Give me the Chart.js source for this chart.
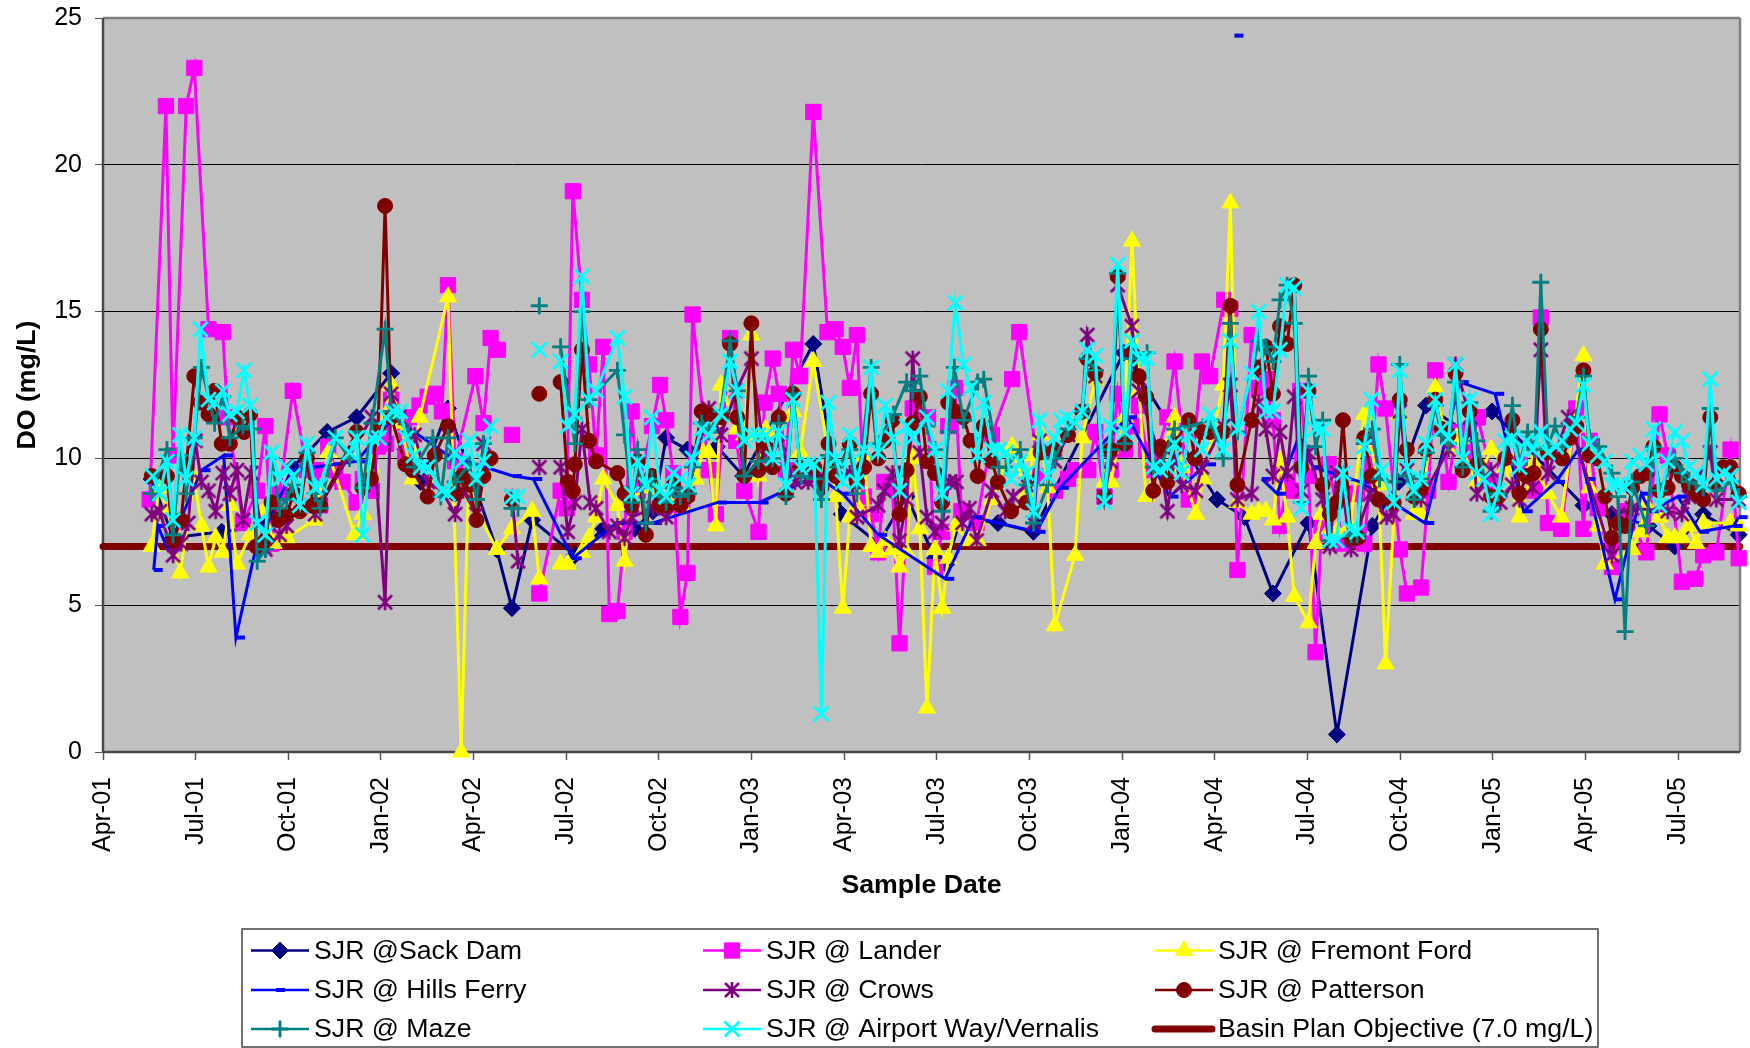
<!DOCTYPE html>
<html><head><meta charset="utf-8">
<style>html,body{margin:0;padding:0;background:#fff}canvas{display:block}</style>
<script src="https://cdn.jsdelivr.net/npm/chart.js@4"></script>
</head><body><canvas id="c" width="1750" height="1048"></canvas>
<script>
// x values: days after 1 Apr 2001. null = break in the line.
const tickDays=[0,91.3,182.6,273.9,365.2,456.5,547.9,639.2,730.5,821.8,913.1,1004.4,1095.7,1187,1278.3,1369.7,1461,1552.3];
const tickLabels=['Apr-01','Jul-01','Oct-01','Jan-02','Apr-02','Jul-02','Oct-02','Jan-03','Apr-03','Jul-03','Oct-03','Jan-04','Apr-04','Jul-04','Oct-04','Jan-05','Apr-05','Jul-05'];

const sackDays=[48,69,117,161,187,221,250,284,298,313,340,388,403,423,465,493,524,542,555,576,605,631,700,728,764,792,820,831,846,882,917,1006,1098,1125,1153,1188,1216,1251,1277,1304,1343,1369,1459,1487,1523,1549,1577,1612];
const sackDO=[9.3,7.3,7.5,7.7,9.7,10.9,11.4,12.9,10.3,9.2,11.7,6.9,4.9,7.9,6.7,7.6,7.6,8.2,10.7,10.3,10.4,9.4,13.9,8.1,7.1,8.7,6.6,6.4,8.0,7.8,7.5,13.6,8.6,8.0,5.4,7.8,0.6,7.7,9.2,11.8,10.9,11.6,8.4,8.1,7.7,7.0,8.1,7.4];

const landerDays=[46,62,69,82,90,104,118,123,138,152,160,166,174,187,201,211,214,222,229,236,250,256,265,271,279,284,298,305,312,320,327,334,340,347,367,375,382,389,null,403,null,430,451,457,463,472,479,486,493,499,507,514,521,527,541,549,555,562,569,576,581,597,604,618,624,632,646,652,660,666,673,680,687,700,714,722,729,736,743,750,757,764,770,778,785,798,805,813,820,827,833,840,846,861,876,896,903,923,938,951,958,971,978,987,993,1000,1007,1014,1021,1028,1034,1049,1056,1070,1083,1091,1105,1111,1118,1132,1139,1146,1153,1160,1167,1173,1180,1188,1195,1201,1208,1222,1229,1236,1243,1250,1257,1264,1278,1285,1299,1306,1313,1326,1334,1347,1355,1370,1382,1396,1411,1417,1424,1437,1452,1459,1465,1473,1487,1501,1521,1534,1542,1556,1569,1577,1590,1604,1612];
const landerDO=[8.6,22.0,10.1,22.0,23.3,14.4,14.3,11.4,7.8,8.9,11.1,7.1,8.8,12.3,9.6,9.6,8.4,10.4,9.6,9.2,8.5,9.3,8.9,10.4,10.5,12.0,10.1,11.4,11.8,12.1,12.2,11.6,15.9,9.9,12.8,11.2,14.1,13.7,null,10.8,null,5.4,8.9,8.3,19.1,15.4,13.2,10.1,13.8,4.7,4.8,7.5,11.6,8.9,11.1,12.5,11.3,9.5,4.6,6.1,14.9,9.6,8.1,14.1,10.6,8.9,7.5,11.9,13.4,12.2,9.6,13.7,12.8,21.8,14.3,14.4,13.8,12.4,14.2,8.7,8.1,6.8,9.2,9.0,3.7,11.7,11.4,11.4,6.3,7.5,11.1,12.4,8.2,7.8,10.8,12.7,14.3,9.4,8.9,9.3,9.6,9.6,10.9,8.7,9.6,12.2,10.3,11.1,11.8,10.3,9.6,11.4,13.3,8.6,13.3,12.8,15.4,15.1,6.2,14.2,12.4,12.7,11.3,7.7,9.2,8.9,12.3,9.4,3.4,7.7,9.8,7.1,8.8,8.8,7.1,9.8,13.2,11.7,6.9,5.4,5.6,8.9,13.0,9.2,10.9,10.2,11.4,9.2,9.8,9.8,8.9,14.8,7.8,7.6,11.7,7.6,10.6,8.3,6.3,8.2,6.8,11.5,10.1,5.8,5.9,6.7,6.8,10.3,6.6];

const fremontDays=[48,55,64,76,90,97,104,111,118,125,132,145,160,168,181,208,222,248,256,264,284,293,305,312,340,353,360,388,403,423,430,null,451,458,472,479,486,493,507,514,521,542,570,584,591,597,604,609,625,632,639,646,653,660,680,687,700,722,729,736,743,750,757,764,771,778,785,792,798,805,812,820,827,833,840,853,862,876,896,910,917,924,931,938,958,965,978,987,993,1007,1014,1021,1028,1056,1063,1077,1084,1104,1111,1118,1132,1139,1146,1153,1160,1167,1174,1188,1195,1201,1209,1216,1229,1243,1257,1264,1278,1292,1299,1313,1326,1334,1354,1368,1382,1396,1410,1424,1437,1459,1465,1473,1480,1507,1515,1521,1534,1542,1549,1556,1563,1570,1577,1604,1612];
const fremontDO=[7.0,9.0,8.3,6.1,9.3,7.7,6.3,7.3,6.8,8.4,6.4,7.4,8.3,7.1,7.3,7.9,10.2,7.4,8.1,9.7,12.5,11.2,9.3,11.4,15.5,0,8.8,6.9,7.6,8.2,5.9,null,6.4,6.4,6.8,7.3,8.0,9.3,8.4,6.5,8.7,9.0,8.4,9.3,10.2,10.2,7.7,12.5,11.0,10.8,14.2,9.4,11.0,10.5,11.6,10.2,13.3,8.7,4.9,8.0,8.4,10.1,7.0,6.8,7.2,6.9,6.3,6.8,10.0,7.6,1.5,6.9,4.9,6.6,7.7,7.2,7.2,8.6,10.4,8.8,10.1,10.8,9.0,4.3,6.7,10.7,12.7,9.2,9.2,11.4,17.4,12.3,8.7,11.4,9.7,8.1,9.3,12.5,18.7,8.5,8.1,8.2,8.2,7.9,9.9,8.0,5.3,4.4,7.1,8.1,7.6,7.5,7.7,11.5,9.1,3.0,11.5,8.1,8.1,12.4,10.3,10.7,9.2,10.3,9.7,8.0,9.8,8.8,8.0,13.5,9.0,7.7,6.4,6.9,7.5,8.4,8.0,7.3,7.3,7.3,7.7,7.1,7.8,7.8,7.7];

const hillsDays=[50,54,64,97,119,131,151,187,250,286,340,404,424,463,506,542,606,647,703,729,764,830,858,920,943,1010,1051,1088,null,1115,null,1142,1157,1177,1193,1239,1303,1337,1372,1400,1432,1454,1462,1490,1516,1525,1552,1574,1607,1612];
const hillsDO=[6.2,7.7,6.9,9.6,10.1,3.9,7.0,9.6,9.9,11.4,10.1,9.4,9.3,6.6,7.8,7.8,8.5,8.5,9.4,8.8,7.4,5.9,8.0,7.5,9.0,11.4,8.7,9.8,null,24.4,null,9.3,8.8,10.6,9.7,9.2,7.8,12.6,12.2,8.2,9.2,10.3,9.3,5.2,8.8,8.2,8.7,7.5,7.7,8.0];

const crowsDays=[48,56,69,77,84,91,97,104,111,118,125,132,138,146,160,174,181,194,209,214,265,278,284,292,307,320,334,347,355,368,375,null,403,409,null,430,null,451,458,465,472,480,486,499,507,514,521,542,555,576,597,609,624,639,652,667,682,695,701,736,743,764,770,778,785,792,798,805,812,820,827,834,841,847,854,861,876,889,897,910,917,923,938,951,965,970,978,987,993,1000,1014,1021,1042,1049,1056,1063,1077,1083,1104,1111,1118,1132,1139,1146,1153,1160,1167,1174,1181,1188,1202,1209,1216,1222,1230,1249,1265,1272,1278,1285,1299,1326,1333,1347,1354,1368,1377,1389,1396,1409,1417,1424,1444,1487,1493,1507,1542,1556,1563,1584,1590,1612];
const crowsDO=[8.1,8.2,6.7,7.1,7.8,10.6,9.2,8.9,8.2,9.5,8.8,9.6,7.9,9.5,6.9,7.4,7.7,8.4,8.1,8.4,11.4,5.1,12.2,11.4,10.8,9.2,8.9,8.1,8.9,8.1,10.5,null,8.7,6.5,null,9.7,null,9.7,7.5,8.5,11.0,8.5,8.3,7.5,7.7,7.3,8.0,8.3,8.0,8.8,11.7,10.8,12.3,13.4,10.1,10.5,9.2,9.2,9.3,9.5,8.0,8.4,8.9,9.5,7.2,8.6,13.4,10.2,8.0,7.5,7.8,9.2,9.2,7.8,8.3,7.2,8.9,8.2,8.7,9.1,7.8,10.6,9.9,10.8,11.6,14.2,12.8,8.7,9.9,15.9,14.5,12.3,10.0,8.2,10.0,9.1,8.9,9.7,11.1,12.5,8.6,8.8,11.9,11.0,9.4,10.9,9.5,12.1,8.9,10.2,8.6,7.0,9.5,8.8,6.9,8.8,8.0,8.1,11.6,9.6,8.6,10.3,13.2,11.4,8.8,9.6,8.5,9.1,8.6,9.0,13.7,9.5,11.4,6.7,8.1,8.3,8.2,8.1,8.7,10.2,8.6,8.6];

const pattersonDays=[48,63,69,77,82,90,96,104,110,117,125,132,139,145,151,160,166,173,181,188,194,201,207,214,250,256,264,271,278,284,298,305,320,327,340,347,354,361,368,375,382,null,403,null,430,null,451,458,463,465,472,479,486,507,514,521,527,535,541,549,555,562,569,576,590,597,609,618,625,632,639,646,653,660,666,673,680,687,701,708,715,722,736,743,750,757,764,770,778,785,792,798,805,812,820,827,833,840,848,855,862,868,876,882,895,910,924,938,951,965,970,978,987,993,1000,1007,1014,1021,1028,1035,1042,1049,1056,1070,1076,1083,1091,1104,1111,1118,1132,1139,1146,1153,1160,1167,1174,1181,1188,1202,1209,1216,1222,1230,1237,1243,1250,1257,1272,1278,1285,1292,1299,1304,1313,1319,1326,1333,1340,1347,1354,1368,1375,1382,1389,1396,1403,1410,1417,1424,1438,1446,1452,1459,1465,1473,1480,1487,1493,1500,1507,1515,1521,1528,1534,1542,1549,1556,1563,1570,1577,1584,1590,1597,1604,1612];
const pattersonDO=[9.4,9.4,7.2,7.9,9.7,12.8,11.9,11.5,12.3,10.5,10.5,11.4,10.9,11.5,7.0,7.2,8.5,7.9,8.1,8.8,8.2,10.0,8.4,8.4,10.9,9.0,9.3,11.0,18.6,11.4,9.8,9.6,8.7,10.1,11.1,8.8,9.4,9.1,7.9,9.4,10.0,null,8.6,null,12.2,null,12.6,9.2,8.9,9.8,13.7,10.6,9.9,9.5,8.8,8.4,9.9,7.4,9.4,8.4,8.4,9.1,8.4,8.7,11.6,11.5,11.4,13.9,11.4,9.4,14.6,9.6,10.5,9.7,11.4,8.8,12.2,9.7,9.7,9.0,10.5,9.4,10.5,9.2,9.7,12.2,10.0,10.6,11.3,8.1,9.6,11.2,12.1,9.9,9.5,8.5,11.9,11.6,11.4,10.6,9.4,11.1,9.9,9.2,8.2,8.5,10.2,10.3,10.8,11.6,13.4,12.9,8.7,10.3,16.2,10.5,13.6,12.8,12.1,8.9,10.4,9.2,10.5,11.3,10.0,10.9,10.9,10.9,15.2,9.1,11.3,13.1,13.8,12.2,14.5,13.9,15.9,9.7,12.3,9.1,8.1,8.5,11.3,7.3,7.3,10.7,9.4,8.6,8.5,12.0,10.3,8.7,9.0,10.3,12.0,11.0,10.8,12.9,9.6,11.6,9.8,8.7,8.7,10.0,11.3,8.8,9.4,9.5,14.4,10.2,10.0,10.7,11.1,13.0,10.1,10.0,8.7,7.3,7.8,7.7,9.0,9.4,9.5,10.4,8.9,9.0,9.7,9.4,9.1,8.8,8.6,11.4,9.1,9.7,9.7,8.8];

const mazeDays=[48,63,69,76,82,90,97,110,118,125,138,148,152,160,166,174,181,187,201,209,214,229,243,250,256,265,278,284,301,307,325,333,340,347,361,368,375,null,403,409,null,430,null,451,465,472,479,507,514,521,527,535,541,549,555,562,569,577,581,590,597,609,618,625,632,646,660,666,673,680,688,701,708,715,724,736,743,757,762,779,792,798,805,812,820,827,833,839,848,862,868,883,890,904,910,917,931,938,951,965,970,978,987,993,1000,1007,1014,1029,1035,1042,1056,1070,1091,1104,1111,1118,1139,1146,1153,1160,1167,1174,1181,1188,1195,1202,1209,1230,1236,1243,1251,1258,1272,1278,1285,1292,1299,1304,1313,1319,1326,1333,1340,1347,1354,1368,1375,1389,1396,1404,1411,1417,1424,1431,1438,1452,1459,1465,1474,1487,1493,1500,1507,1521,1528,1534,1549,1556,1563,1577,1584,1590,1605,1612];
const mazeDO=[8.8,10.3,7.4,10.1,8.8,10.7,13.1,11.2,12.1,10.7,11.1,11.0,6.5,6.9,10.0,8.3,8.6,9.1,10.2,8.8,8.3,10.7,10.0,10.9,9.0,11.2,14.4,11.6,10.9,9.7,10.7,8.7,10.7,9.2,9.8,8.6,10.5,null,8.3,8.3,null,15.2,null,13.8,10.5,15.0,12.0,13.0,10.8,8.5,10.3,7.8,9.3,8.7,8.5,9.0,8.7,8.8,9.7,11.2,10.9,11.6,14.0,12.3,9.4,9.9,10.0,11.2,8.7,12.2,9.4,9.3,8.6,10.1,9.7,10.3,8.8,13.1,10.5,11.5,12.6,12.3,12.8,11.1,10.3,8.2,10.9,13.1,11.3,12.6,12.7,9.7,9.7,10.3,9.1,7.8,9.1,10.0,11.0,11.6,13.4,13.0,8.7,10.3,16.3,10.5,13.4,13.6,9.7,9.7,11.0,11.1,11.3,10.0,14.6,10.9,14.0,13.8,13.3,15.4,15.9,14.6,8.5,12.8,10.4,11.3,7.2,7.4,7.4,10.5,11.0,9.3,9.2,13.2,9.4,8.6,9.3,10.2,11.8,10.8,10.5,12.6,9.7,11.9,10.6,8.2,8.8,11.8,9.8,10.9,10.3,16.0,10.4,11.1,10.4,11.4,12.8,10.7,10.4,9.5,8.7,4.1,9.2,7.7,10.4,8.9,10.0,9.5,9.2,9.0,11.7,8.9,9.2,8.7];

const airportDays=[49,56,63,69,76,82,90,96,104,110,118,125,132,139,145,152,160,166,174,181,187,194,201,209,214,229,243,250,256,265,272,279,286,293,299,306,313,320,334,340,347,354,361,368,375,382,null,403,409,null,430,null,451,458,465,472,479,486,507,514,521,527,535,541,549,555,562,569,577,581,590,597,609,618,625,632,639,646,653,660,666,673,680,687,695,701,708,715,722,729,736,743,750,757,764,771,778,785,792,798,812,820,827,833,840,848,855,862,868,876,883,890,895,904,910,917,923,931,938,944,950,958,965,970,978,987,993,1000,1007,1014,1022,1029,1035,1042,1049,1056,1063,1070,1083,1091,1104,1111,1118,1132,1139,1146,1153,1160,1167,1174,1181,1188,1195,1202,1209,1216,1222,1229,1236,1243,1250,1260,1272,1278,1285,1292,1299,1304,1313,1319,1326,1333,1340,1347,1354,1361,1368,1375,1382,1389,1396,1403,1409,1417,1424,1432,1438,1446,1452,1459,1465,1473,1480,1487,1493,1500,1507,1515,1521,1528,1534,1542,1549,1556,1563,1570,1577,1584,1590,1597,1604,1612];
const airportDO=[9.4,8.8,9.9,7.9,10.8,9.3,10.7,14.4,12.0,11.9,12.3,11.5,11.6,13.0,11.8,7.8,7.4,10.2,9.3,9.7,9.4,8.4,10.5,9.0,9.1,10.7,10.2,10.7,7.4,10.7,10.7,11.4,11.6,11.6,10.7,10.1,9.7,9.7,8.9,8.8,10.2,9.9,10.6,9.3,9.9,11.1,null,8.7,8.7,null,13.7,null,13.3,11.1,11.5,16.2,12.0,12.3,14.1,12.1,8.8,9.9,9.1,11.4,8.9,8.7,9.5,9.3,9.1,10.0,11.0,10.8,11.5,13.3,12.3,10.6,10.8,10.8,10.8,10.0,10.9,9.1,12.0,9.7,9.8,9.8,1.3,11.9,10.0,9.2,10.8,9.2,10.3,13.1,10.2,11.8,10.7,8.9,11.1,10.7,11.4,10.3,8.8,12.3,15.3,13.2,12.4,10.1,11.9,10.3,10.3,10.2,9.3,9.9,9.5,8.2,11.3,9.4,10.7,11.3,11.4,11.2,11.6,13.7,13.5,8.5,11.1,16.6,10.9,14.0,13.4,13.4,9.7,9.6,9.7,10.5,9.5,10.8,10.3,11.5,10.3,14.0,11.0,12.9,15.0,11.6,11.6,13.7,15.9,15.8,8.3,12.3,11.0,11.0,7.2,7.2,9.5,7.6,7.5,10.4,12.0,9.6,8.5,13.0,9.7,8.9,9.3,10.5,12.0,11.0,10.7,13.2,10.0,12.0,9.5,9.3,8.1,8.9,10.6,10.7,9.7,10.6,10.3,10.9,10.2,10.4,10.6,11.0,11.2,12.5,10.5,10.1,9.9,9.1,9.1,9.0,9.9,10.1,9.8,11.0,8.4,9.9,10.9,10.6,9.7,9.5,9.1,12.7,9.3,9.5,9.4,8.5];

const basinDays=[0,1613];
const basinDO=[7,7];

const NAVY='#000080',MAG='#FF00FF',YEL='#FFFF00',BLUE='#0000FF',PUR='#800080',MAR='#800000',TEAL='#008080',CYAN='#00FFFF';

function pts(days,vals){return days.map((d,i)=>({x:d===null?(days[i-1]??0):d,y:vals[i]}));}

function dashMarker(){const c=document.createElement('canvas');c.width=24;c.height=6;const g=c.getContext('2d');g.fillStyle=BLUE;g.fillRect(12,1,9,4);return c;}
function starMarker(){const c=document.createElement('canvas');c.width=20;c.height=20;const g=c.getContext('2d');g.strokeStyle=PUR;g.lineWidth=2.6;g.beginPath();
 g.moveTo(10,2);g.lineTo(10,18);g.moveTo(3,3);g.lineTo(17,17);g.moveTo(17,3);g.lineTo(3,17);g.stroke();return c;}
const dash=dashMarker(),star=starMarker();

function ds(label,days,vals,color,style,radius,order,filled){
 return {label,data:pts(days,vals),borderColor:color,backgroundColor:color,borderWidth:3,showLine:true,spanGaps:false,tension:0,
  pointStyle:style,pointRadius:radius,pointHoverRadius:radius,pointBorderColor:color,pointBackgroundColor:color,
  pointBorderWidth:filled?1:2.8,order,clip:false};
}
const datasets=[
 ds('SJR @Sack Dam',sackDays,sackDO,NAVY,'rectRot',8.5,8,true),
 ds('SJR @ Lander',landerDays,landerDO,MAG,'rect',10.8,7,true),
 ds('SJR @ Fremont Ford',fremontDays,fremontDO,YEL,'triangle',10,6,true),
 ds('SJR @ Hills Ferry',hillsDays,hillsDO,BLUE,dash,6,5,true),
 ds('SJR @ Crows',crowsDays,crowsDO,PUR,star,8,4,false),
 ds('SJR @ Patterson',pattersonDays,pattersonDO,MAR,'circle',7.5,3,true),
 ds('SJR @ Maze',mazeDays,mazeDO,TEAL,'cross',8.5,2,false),
 ds('SJR @ Airport Way/Vernalis',airportDays,airportDO,CYAN,'crossRot',10.5,1,false),
 {label:'Basin Plan Objective (7.0 mg/L)',data:pts(basinDays,basinDO),borderColor:MAR,backgroundColor:MAR,borderWidth:7,borderCapStyle:'round',showLine:true,pointRadius:0,order:9,clip:false}
];

const FONT='"Liberation Sans",Arial,sans-serif';

function seg(g,c,x0,y0,x1,y1){g.strokeStyle=c;g.beginPath();g.moveTo(x0,y0);g.lineTo(x1,y1);g.stroke();}
const plotFrame={id:'plotFrame',
 beforeDraw(ch){const a=ch.chartArea,g=ch.ctx;g.save();g.fillStyle='#fff';g.fillRect(0,0,ch.width,ch.height);g.fillStyle='#C0C0C0';g.fillRect(a.left,a.top,a.width,a.height);g.restore();},
 beforeDatasetsDraw(ch){const a=ch.chartArea,g=ch.ctx;g.save();g.lineWidth=2.5;
  seg(g,'#808080',a.left,a.top,a.right,a.top);seg(g,'#808080',a.right,a.top,a.right,a.bottom);
  seg(g,'#484848',a.left,a.top,a.left,a.bottom);seg(g,'#484848',a.left,a.bottom,a.right,a.bottom);g.restore();}
};

const legendRows=[[0,1,2],[3,4,5],[6,7,8]];
const legendCols=[251,703,1155];
const legendY=[950.5,990,1029];
const customLegend={id:'customLegend',
 afterDraw(ch){const g=ch.ctx;g.save();
  g.strokeStyle='#444';g.lineWidth=1.5;g.strokeRect(242,929,1356,118);
  g.font='26.7px '+FONT;g.textBaseline='middle';g.textAlign='left';
  legendRows.forEach((row,r)=>row.forEach((idx,c)=>{
   const d=ch.data.datasets[idx],x0=legendCols[c],y=legendY[r],basin=idx===8;
   g.strokeStyle=d.borderColor;g.lineWidth=basin?7:2.4;g.lineCap=basin?'round':'butt';
   g.beginPath();g.moveTo(x0,y);g.lineTo(x0+(basin?57:58),y);g.stroke();
   if(!basin){g.fillStyle=d.borderColor;g.strokeStyle=d.borderColor;g.lineWidth=d.pointBorderWidth;g.lineCap='butt';
    Chart.helpers.drawPoint(g,{pointStyle:d.pointStyle,radius:d.pointRadius,borderWidth:d.pointBorderWidth,rotation:0},x0+29-(idx===3?4:0),y);}
   g.fillStyle='#000';g.fillText(d.label,x0+63,y+1);
  }));
  g.restore();}
};

new Chart(document.getElementById('c'),{
 type:'scatter',
 data:{datasets},
 options:{responsive:false,animation:false,devicePixelRatio:1,
  layout:{autoPadding:false,padding:{top:18,right:10,left:0,bottom:0}},
  plugins:{legend:{display:false},tooltip:{enabled:false}},
  scales:{
   x:{type:'linear',min:0,max:1613.3,
    afterBuildTicks(s){s.ticks=tickDays.map(v=>({value:v}));},
    afterFit(s){s.height=296;s.paddingLeft=0;s.paddingRight=0;},
    grid:{drawOnChartArea:false,drawTicks:true,tickLength:8,tickColor:'#555',tickWidth:1.5},
    border:{display:false},
    ticks:{autoSkip:false,minRotation:90,maxRotation:90,color:'#000',padding:17,font:{family:FONT,size:25},
     callback(v,i){return tickLabels[i];}},
    title:{display:true,text:'Sample Date',color:'#000',font:{family:FONT,size:26.7,weight:'bold'},padding:{top:0,bottom:146}}
   },
   y:{min:0,max:25,
    afterFit(s){s.width=103;s.paddingTop=0;s.paddingBottom=0;},
    grid:{color:'#000',lineWidth:1,drawTicks:true,tickLength:8,tickColor:'#555'},
    border:{display:false},
    ticks:{stepSize:5,color:'#000',padding:13,font:{family:FONT,size:25}},
    title:{display:true,text:'DO (mg/L)',color:'#000',font:{family:FONT,size:26.7,weight:'bold'},padding:{top:12,bottom:0}}
   }
  }
 },
 plugins:[plotFrame,customLegend]
});
</script></body></html>
